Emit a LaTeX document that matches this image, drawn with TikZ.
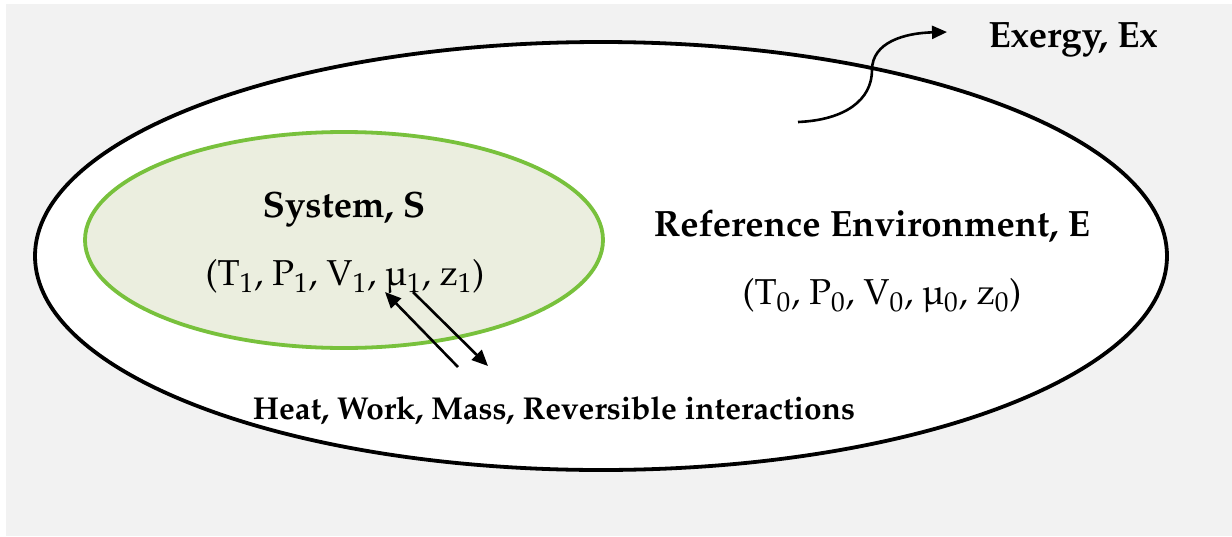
\documentclass[tikz,border=0pt]{standalone}
\usepackage[T1]{fontenc}
\usepackage{mathpazo}
\usetikzlibrary{arrows.meta,shapes.geometric}
\definecolor{bggray}{HTML}{F2F2F2}
\definecolor{sysfill}{HTML}{EBEEDF}
\definecolor{sysline}{HTML}{78C13C}
\tikzset{
  headtext/.style={font=\fontsize{18.3}{22}\selectfont\bfseries, inner sep=0pt},
  statetext/.style={font=\fontsize{18}{22}\selectfont, inner sep=0pt},
  smalltext/.style={font=\fontsize{15.8}{19}\selectfont\bfseries, inner sep=0pt},
  flow/.style={line width=1.3pt, -{Triangle[length=8pt,width=7pt]}},
}
\newcommand{\lowsub}[1]{\textsubscript{#1}}
\begin{document}
\begin{tikzpicture}[x=0.5pt,y=-0.5pt]
\useasboundingbox (0,0) rectangle (1232,536);
\fill[white] (0,0) rectangle (1232,536);
\fill[bggray] (6,4) rectangle (1232,536);
% reference environment
\node[ellipse, draw=black, fill=white, line width=1.9pt, inner sep=0pt,
      minimum width=566pt, minimum height=214pt] (env) at (601,256) {};
% system
\node[ellipse, draw=sysline, fill=sysfill, line width=1.9pt, inner sep=0pt,
      minimum width=259pt, minimum height=108pt] (sys) at (344,240) {};
\node[headtext] (systitle) at (344,209) {System, S};
\node[statetext] (sysstate) at (345,277) {(T\lowsub{1}, P\lowsub{1}, V\lowsub{1}, \textmu\lowsub{1}, z\lowsub{1})};
\node[headtext] (envtitle) at (872,226) {Reference Environment, E};
\node[statetext] (envstate) at (882,296) {(T\lowsub{0}, P\lowsub{0}, V\lowsub{0}, \textmu\lowsub{0}, z\lowsub{0})};
\node[smalltext] (heat) at (554,411) {Heat, Work, Mass, Reversible interactions};
\node[headtext] (exergy) at (1073,40) {Exergy, Ex};
% interaction arrows
\coordinate (a1s) at (458,367);
\coordinate (a1e) at (385,292);
\coordinate (a2s) at (413,292);
\coordinate (a2e) at (488,366);
\draw[flow] (a1s) -- (a1e);
\draw[flow] (a2s) -- (a2e);
% exergy arrow
\coordinate (exs) at (798,122);
\coordinate (exm) at (872,70);
\coordinate (exe) at (947,32);
\draw[line width=1.3pt, -{Triangle[length=7.5pt,width=6.5pt]}]
  (exs) .. controls (845,120) and (872,100) .. (exm)
        .. controls (872,42) and (905,33) .. (exe);
\end{tikzpicture}
\end{document}
